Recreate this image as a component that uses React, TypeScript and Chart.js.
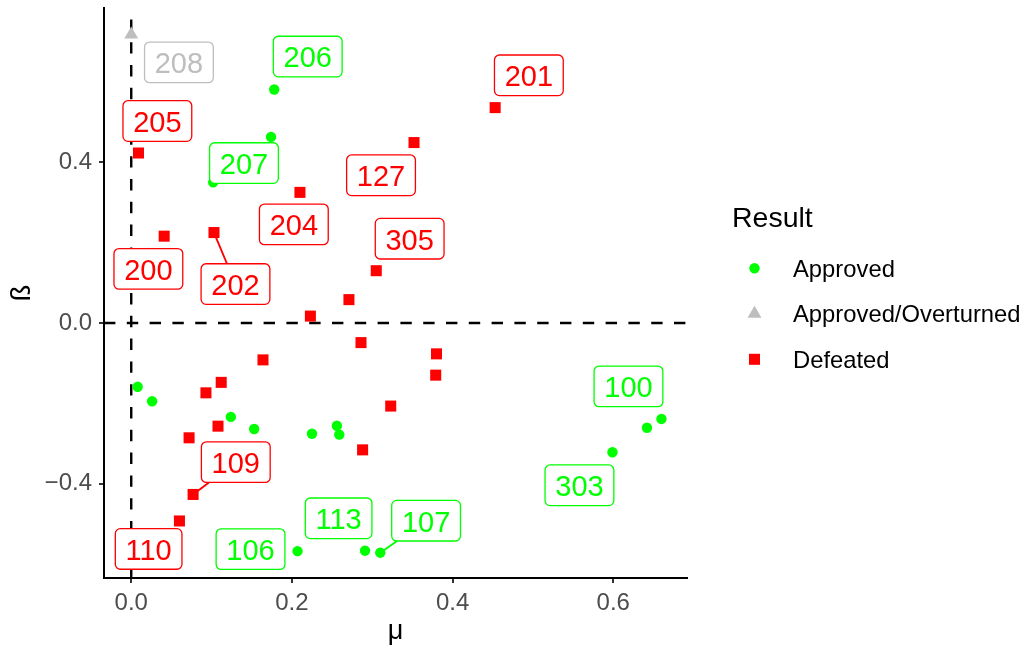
import React, { useEffect, useRef } from "react";
import { Chart, registerables } from "chart.js";

Chart.register(...registerables);

// ---- data -------------------------------------------------------------
const approvedMu = [0.178, 0.174, 0.102, 0.008, 0.026, 0.124, 0.153, 0.225, 0.256, 0.259, 0.207, 0.291, 0.31, 0.599, 0.642, 0.66];
const approvedBeta = [0.581, 0.463, 0.35, -0.159, -0.195, -0.234, -0.264, -0.276, -0.256, -0.278, -0.568, -0.567, -0.572, -0.322, -0.261, -0.239];
const approvedIds = ["206", "", "207", "", "", "", "", "", "", "", "106", "113", "107", "303", "", "100"];

const overturnedMu = [0.0];
const overturnedBeta = [0.718];
const overturnedIds = ["208"];

const defeatedMu = [0.009, 0.453, 0.352, 0.21, 0.041, 0.103, 0.305, 0.271, 0.223, 0.286, 0.38, 0.164, 0.379, 0.112, 0.093, 0.323, 0.108, 0.072, 0.288, 0.077, 0.06];
const defeatedBeta = [0.423, 0.536, 0.449, 0.325, 0.216, 0.225, 0.13, 0.058, 0.017, -0.049, -0.077, -0.092, -0.13, -0.148, -0.174, -0.207, -0.257, -0.286, -0.316, -0.427, -0.493];
const defeatedIds = ["205", "201", "127", "204", "200", "202", "305", "", "", "", "", "", "", "", "", "", "", "", "", "109", "110"];

const seriesNames = ["Approved", "Approved/Overturned", "Defeated"];
const legendTitle = "Result";
const xTitle = "μ";
const yTitle = "ß";

const xTicks = [0, 0.2, 0.4, 0.6];
const xTickLabels = ["0.0", "0.2", "0.4", "0.6"];
const yTicks = [-0.4, 0, 0.4];
const yTickLabels = ["\u22120.4", "0.0", "0.4"];

// ---- layout / style ---------------------------------------------------
const FONT = '"Liberation Sans", Arial, Helvetica, sans-serif';
const X_MIN = -0.0339;
const X_MAX = 0.6918;
const Y_MIN = -0.635;
const Y_MAX = 0.784;

const GREEN = "#00FF00";
const GREY = "#BEBEBE";
const RED = "#FF0000";

// repelled label placement: pixel offset of the box centre from its point, and whether a leader line is drawn
const labelNudge: Record<string, [number, number, boolean]> = {
  "208": [47.7, 27.9, false],
  "206": [33.5, -33, false],
  "205": [18.9, -32, false],
  "207": [30.8, -19.3, false],
  "127": [-33, 32.7, false],
  "204": [-6.1, 32, false],
  "305": [33.4, -32, false],
  "200": [-15.8, 32.7, false],
  "202": [21.5, 51.5, true],
  "201": [33.7, -32.3, false],
  "109": [42.7, -32.3, true],
  "110": [-30.8, 28, false],
  "106": [-47, -2, false],
  "113": [-26.4, -32.4, false],
  "107": [45.8, -32, true],
  "303": [-33, 33, false],
  "100": [-33, -32.6, false],
};

const LABEL_SIZE = 29;
const LABEL_PAD = 10.2;
const LABEL_H = 40.6;
const LEGEND_SIZE = 23.8;

const toPoints = (mu: number[], beta: number[]) => mu.map((m, i) => ({ x: m, y: beta[i] }));
const seriesIds = [approvedIds, overturnedIds, defeatedIds];

function drawMarker(ctx: CanvasRenderingContext2D, style: string, x: number, y: number, r: number, color: string) {
  ctx.fillStyle = color;
  ctx.beginPath();
  if (style === "circle") {
    ctx.arc(x, y, r, 0, Math.PI * 2);
  } else if (style === "triangle") {
    let a = 0;
    ctx.moveTo(x + Math.sin(a) * r, y - Math.cos(a) * r);
    a += (2 * Math.PI) / 3;
    ctx.lineTo(x + Math.sin(a) * r, y - Math.cos(a) * r);
    a += (2 * Math.PI) / 3;
    ctx.lineTo(x + Math.sin(a) * r, y - Math.cos(a) * r);
    ctx.closePath();
  } else {
    const s = Math.SQRT1_2 * r;
    ctx.rect(x - s, y - s, 2 * s, 2 * s);
  }
  ctx.fill();
}

const refLinesPlugin = {
  id: "refLines",
  beforeDatasetsDraw(chart: any) {
    const { ctx, chartArea: a, scales } = chart;
    const px = scales.x.getPixelForValue(0);
    const py = scales.y.getPixelForValue(0);
    ctx.save();
    ctx.strokeStyle = "#000";
    ctx.lineWidth = 2.4;
    ctx.setLineDash([11.4, 11.4]);
    ctx.beginPath();
    ctx.moveTo(a.left, py);
    ctx.lineTo(a.right, py);
    ctx.stroke();
    ctx.beginPath();
    ctx.moveTo(px, a.bottom);
    ctx.lineTo(px, a.top);
    ctx.stroke();
    ctx.restore();
  },
};

const labelPlugin = {
  id: "repelLabels",
  afterDatasetsDraw(chart: any) {
    const ctx: CanvasRenderingContext2D = chart.ctx;
    ctx.save();
    ctx.font = `${LABEL_SIZE}px ${FONT}`;
    chart.data.datasets.forEach((ds: any, di: number) => {
      const meta = chart.getDatasetMeta(di);
      const ids = seriesIds[di];
      ids.forEach((id, i) => {
        if (!id) return;
        const el = meta.data[i];
        const nudge = labelNudge[id];
        if (!el || !nudge) return;
        const color = ds.backgroundColor;
        const cx = el.x + nudge[0];
        const cy = el.y + nudge[1];
        const tw = ctx.measureText(id).width;
        const w = tw + 2 * LABEL_PAD;
        const h = LABEL_H;
        if (nudge[2]) {
          // leader line from the point to the edge of the box
          const dx = cx - el.x;
          const dy = cy - el.y;
          const tx = Math.abs(dx) > 0 ? (Math.abs(dx) - w / 2) / Math.abs(dx) : 0;
          const ty = Math.abs(dy) > 0 ? (Math.abs(dy) - h / 2) / Math.abs(dy) : 0;
          const t = Math.max(tx, ty);
          ctx.strokeStyle = color;
          ctx.lineWidth = 1.9;
          ctx.beginPath();
          ctx.moveTo(el.x, el.y);
          ctx.lineTo(el.x + dx * t, el.y + dy * t);
          ctx.stroke();
        }
        ctx.beginPath();
        (ctx as any).roundRect(cx - w / 2, cy - h / 2, w, h, 5);
        ctx.fillStyle = "#FFFFFF";
        ctx.fill();
        ctx.strokeStyle = color;
        ctx.lineWidth = 1.3;
        ctx.stroke();
        ctx.fillStyle = color;
        ctx.textAlign = "center";
        ctx.textBaseline = "alphabetic";
        ctx.fillText(id, cx, cy + 0.358 * LABEL_SIZE + 0.5);
      });
    });
    ctx.restore();
  },
};

const legendPlugin = {
  id: "resultLegend",
  afterDraw(chart: any) {
    const ctx: CanvasRenderingContext2D = chart.ctx;
    ctx.save();
    ctx.textAlign = "left";
    ctx.textBaseline = "alphabetic";
    ctx.fillStyle = "#000";
    ctx.font = `28.5px ${FONT}`;
    ctx.fillText(legendTitle, 732, 227.3);
    chart.data.datasets.forEach((ds: any, i: number) => {
      const cy = 268.3 + i * 45.5;
      drawMarker(ctx, ds.pointStyle, 754.5, cy, ds.pointRadius, ds.backgroundColor);
      ctx.fillStyle = "#000";
      ctx.font = `${LEGEND_SIZE}px ${FONT}`;
      ctx.fillText(ds.label, 793, cy + 0.358 * LEGEND_SIZE);
    });
    ctx.restore();
  },
};

export default function App() {
  const ref = useRef<HTMLCanvasElement>(null);

  useEffect(() => {
    if (!ref.current) return;
    const axisCommon = {
      grid: { drawOnChartArea: false, drawTicks: true, tickLength: 5, color: "#333333", tickColor: "#333333", lineWidth: 2 },
      border: { display: true, color: "#000000", width: 2 },
    };
    const chart = new Chart(ref.current, {
      type: "scatter",
      data: {
        datasets: [
          {
            label: seriesNames[0],
            data: toPoints(approvedMu, approvedBeta),
            pointStyle: "circle",
            pointRadius: 5.2,
            backgroundColor: GREEN,
            borderColor: GREEN,
            borderWidth: 0,
          },
          {
            label: seriesNames[1],
            data: toPoints(overturnedMu, overturnedBeta),
            pointStyle: "triangle",
            pointRadius: 8,
            backgroundColor: GREY,
            borderColor: GREY,
            borderWidth: 0,
          },
          {
            label: seriesNames[2],
            data: toPoints(defeatedMu, defeatedBeta),
            pointStyle: "rect",
            pointRadius: 7.8,
            backgroundColor: RED,
            borderColor: RED,
            borderWidth: 0,
          },
        ],
      },
      options: {
        animation: false,
        responsive: false,
        devicePixelRatio: 1,
        events: [],
        layout: { padding: { top: 5, right: 337, left: 0, bottom: 0 } },
        plugins: { legend: { display: false }, tooltip: { enabled: false } },
        scales: {
          x: {
            type: "linear",
            position: "bottom",
            min: X_MIN,
            max: X_MAX,
            afterBuildTicks: (s: any) => {
              s.ticks = xTicks.map((v) => ({ value: v }));
            },
            afterFit: (s: any) => {
              s.height = 73;
              s.paddingLeft = 0;
              s.paddingRight = 0;
            },
            ticks: {
              autoSkip: false,
              maxRotation: 0,
              padding: 6,
              color: "#4D4D4D",
              font: { family: FONT, size: 24 },
              callback: (v: any) => {
                const k = xTicks.findIndex((t) => Math.abs(t - Number(v)) < 1e-9);
                return k >= 0 ? xTickLabels[k] : "";
              },
            },
            title: { display: true, text: xTitle, color: "#000", font: { family: FONT, size: 27 }, padding: { top: 0, bottom: 3 } },
            ...axisCommon,
          },
          y: {
            type: "linear",
            min: Y_MIN,
            max: Y_MAX,
            afterBuildTicks: (s: any) => {
              s.ticks = yTicks.map((v) => ({ value: v }));
            },
            afterFit: (s: any) => {
              s.width = 104;
              s.paddingTop = 0;
              s.paddingBottom = 0;
            },
            ticks: {
              autoSkip: false,
              padding: 7,
              color: "#4D4D4D",
              font: { family: FONT, size: 24 },
              callback: (v: any) => {
                const k = yTicks.findIndex((t) => Math.abs(t - Number(v)) < 1e-9);
                return k >= 0 ? yTickLabels[k] : "";
              },
            },
            title: { display: true, text: yTitle, color: "#000", font: { family: FONT, size: 27 }, padding: { top: 6, bottom: 0 } },
            ...axisCommon,
          },
        },
      },
      plugins: [refLinesPlugin, labelPlugin, legendPlugin],
    } as any);
    return () => chart.destroy();
  }, []);

  return (
    <div style={{ position: "fixed", left: 0, top: 0, width: 1024, height: 651, background: "#FFFFFF" }}>
      <canvas ref={ref} width={1024} height={651} style={{ display: "block", width: 1024, height: 651 }} />
    </div>
  );
}
